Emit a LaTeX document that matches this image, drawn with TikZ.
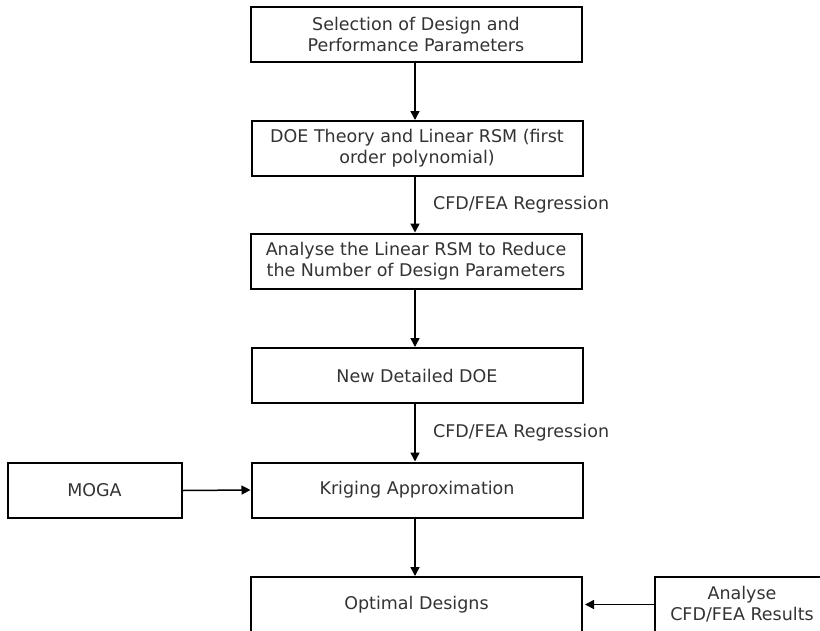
\documentclass[tikz,border=0pt]{standalone}
\usepackage{fontspec}
\setmainfont{DejaVu Sans}
\usetikzlibrary{arrows.meta}
\definecolor{boxtext}{HTML}{333333}
\tikzset{
        flow_box/.style={draw=black, line width=2pt, fill=white, text=boxtext,
                         align=center, inner sep=2pt, font=\fontsize{17.5}{21}\selectfont},
        main_box/.style={flow_box, minimum width=331pt, minimum height=55pt},
        side_box/.style={flow_box, minimum width=174pt, minimum height=55pt},
        flow_arrow/.style={line width=1.5pt, -{Triangle[length=9pt, width=9pt]}},
        arrow_text/.style={anchor=west, text=boxtext, font=\fontsize{17.5}{21}\selectfont}
    }

\begin{document}
\begin{tikzpicture}[x=1pt, y=-1pt]
    \useasboundingbox (0,0) rectangle (820,630);
    \clip (0,0) rectangle (820,630);
    % main column
    \node[main_box] (select) at (416, 34.5) {Selection of Design and\\Performance Parameters};
    \node[main_box] (linrsm) at (417, 148.5) {DOE Theory and Linear RSM (first\\order polynomial)};
    \node[main_box] (reduce) at (416, 261) {Analyse the Linear RSM to Reduce\\the Number of Design Parameters};
    \node[main_box] (newdoe) at (417, 375.5) {New Detailed DOE};
    \node[main_box] (kriging) at (417, 490) {Kriging Approximation};
    \node[main_box] (optimal) at (416.5, 604.5) {Optimal Designs};
    % side boxes
    \node[side_box] (moga) at (94.5, 490.5) {MOGA};
    \node[side_box] (results) at (742, 604.5) {Analyse\\CFD/FEA Results};

    \draw[flow_arrow] (select.south -| 415,0) -- (linrsm.north -| 415,0);
    \draw[flow_arrow] (linrsm.south -| 415,0) -- (reduce.north -| 415,0)
        node[arrow_text, midway, xshift=14pt] (regone) {CFD/FEA Regression};
    \draw[flow_arrow] (reduce.south -| 415,0) -- (newdoe.north -| 415,0);
    \draw[flow_arrow] (newdoe.south -| 415,0) -- (kriging.north -| 415,0)
        node[arrow_text, midway, xshift=14pt] (regtwo) {CFD/FEA Regression};
    \draw[flow_arrow] (kriging.south -| 415,0) -- (optimal.north -| 415,0);
    \draw[flow_arrow] (moga.east) -- (kriging.west);
    \draw[flow_arrow, shorten >=2pt] (results.west) -- (optimal.east);
\end{tikzpicture}
\end{document}
